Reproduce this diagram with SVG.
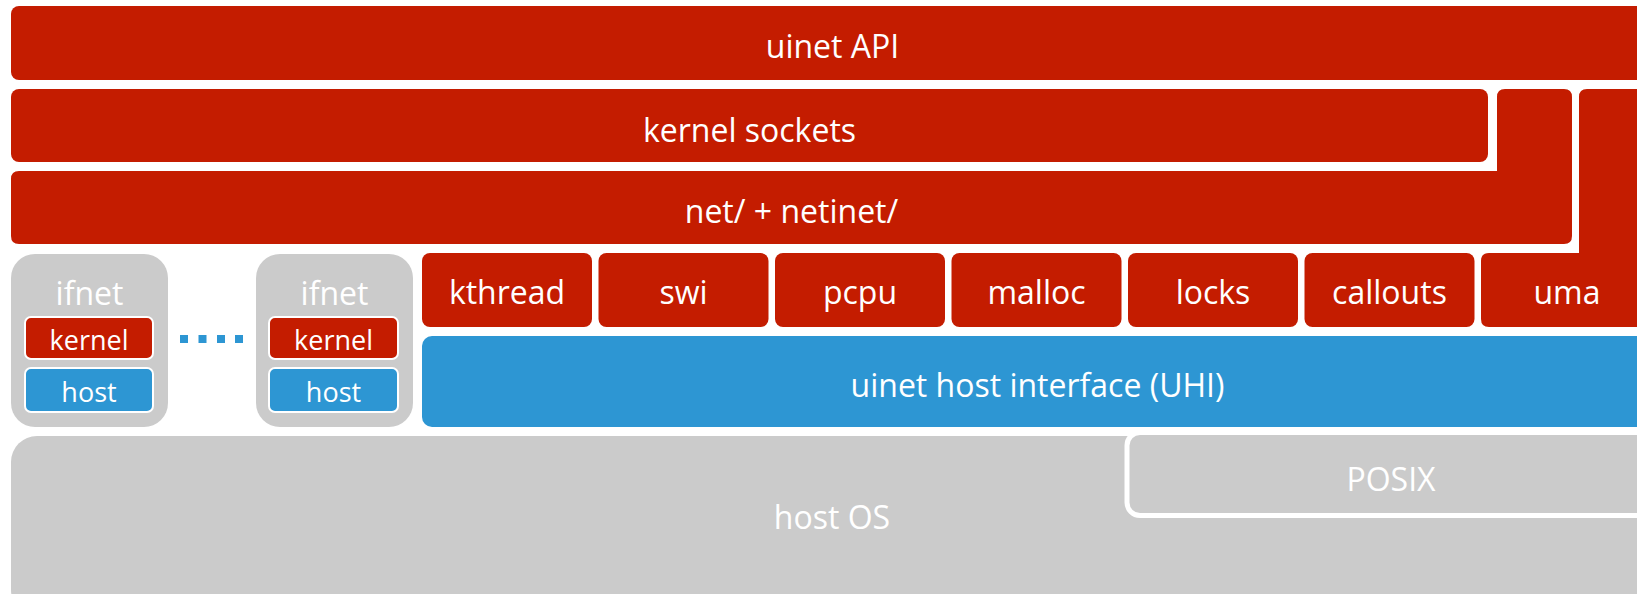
<svg xmlns="http://www.w3.org/2000/svg" width="1637" height="594" viewBox="0 0 1637 594">
<style>
.red{fill:#c41c00}
.blue{fill:#2d96d3}
.gray{fill:#cbcbcb}
.inner{stroke:#ffffff;stroke-width:2}
text{font-family:"Open Sans","Noto Sans","DejaVu Sans",sans-serif;fill:#ffffff;text-anchor:middle;font-size:32px}
.sm{font-size:27px}
</style>
<rect width="1637" height="594" fill="#ffffff"/>
<g id="uinet-api">
<rect class="red" x="11" y="6" width="1643" height="74" rx="8"/>
<text x="832.5" y="58">uinet API</text>
</g>
<g id="kernel-sockets">
<rect class="red" x="11" y="89" width="1477" height="73" rx="8"/>
<text x="749.5" y="142">kernel sockets</text>
</g>
<g id="net-netinet">
<path class="red" d="M19,171 H1497 V97 Q1497,89 1505,89 H1564 Q1572,89 1572,97 V236 Q1572,244 1564,244 H19 Q11,244 11,236 V179 Q11,171 19,171 Z"/>
<text x="791.5" y="223">net/ + netinet/</text>
</g>
<g id="uma">
<path class="red" d="M1587,89 H1660 V327 H1489 Q1481,327 1481,319 V261 Q1481,253 1489,253 H1579 V97 Q1579,89 1587,89 Z"/>
<text x="1567" y="304">uma</text>
</g>
<g id="kthread">
<rect class="red" x="422" y="253" width="170" height="74" rx="8"/>
<text x="507" y="304">kthread</text>
</g>
<g id="swi">
<rect class="red" x="598.5" y="253" width="170" height="74" rx="8"/>
<text x="683.5" y="304">swi</text>
</g>
<g id="pcpu">
<rect class="red" x="775" y="253" width="170" height="74" rx="8"/>
<text x="860" y="304">pcpu</text>
</g>
<g id="malloc">
<rect class="red" x="951.5" y="253" width="170" height="74" rx="8"/>
<text x="1036.5" y="304">malloc</text>
</g>
<g id="locks">
<rect class="red" x="1128" y="253" width="170" height="74" rx="8"/>
<text x="1213" y="304">locks</text>
</g>
<g id="callouts">
<rect class="red" x="1304.5" y="253" width="170" height="74" rx="8"/>
<text x="1389.5" y="304">callouts</text>
</g>
<g id="uhi">
<rect class="blue" x="422" y="336" width="1232" height="91" rx="10"/>
<text x="1037.5" y="397">uinet host interface (UHI)</text>
</g>
<g id="ifnet-1">
<rect class="gray" x="11" y="254" width="157" height="173" rx="24"/>
<text x="89.5" y="305">ifnet</text>
<rect class="red inner" x="25" y="317" width="128" height="42" rx="6"/>
<text class="sm" x="89" y="350">kernel</text>
<rect class="blue inner" x="25" y="368" width="128" height="44" rx="6"/>
<text class="sm" x="89" y="402">host</text>
</g>
<g id="ifnet-2">
<rect class="gray" x="256" y="254" width="157" height="173" rx="24"/>
<text x="334.5" y="305">ifnet</text>
<rect class="red inner" x="269" y="317" width="129" height="42" rx="6"/>
<text class="sm" x="333.5" y="350">kernel</text>
<rect class="blue inner" x="269" y="368" width="129" height="44" rx="6"/>
<text class="sm" x="333.5" y="402">host</text>
</g>
<g id="ellipsis">
<rect class="blue" x="180" y="335" width="8" height="8"/>
<rect class="blue" x="198.5" y="335" width="8" height="8"/>
<rect class="blue" x="217" y="335" width="8" height="8"/>
<rect class="blue" x="235" y="335" width="8" height="8"/>
</g>
<g id="host-os">
<rect class="gray" x="11" y="436" width="1643" height="180" rx="26"/>
<text x="832" y="529">host OS</text>
</g>
<g id="posix">
<rect class="gray" x="1127" y="432.5" width="560" height="83" rx="13" stroke="#ffffff" stroke-width="5"/>
<text x="1391" y="491">POSIX</text>
</g>
<g id="connectors"/>
</svg>
